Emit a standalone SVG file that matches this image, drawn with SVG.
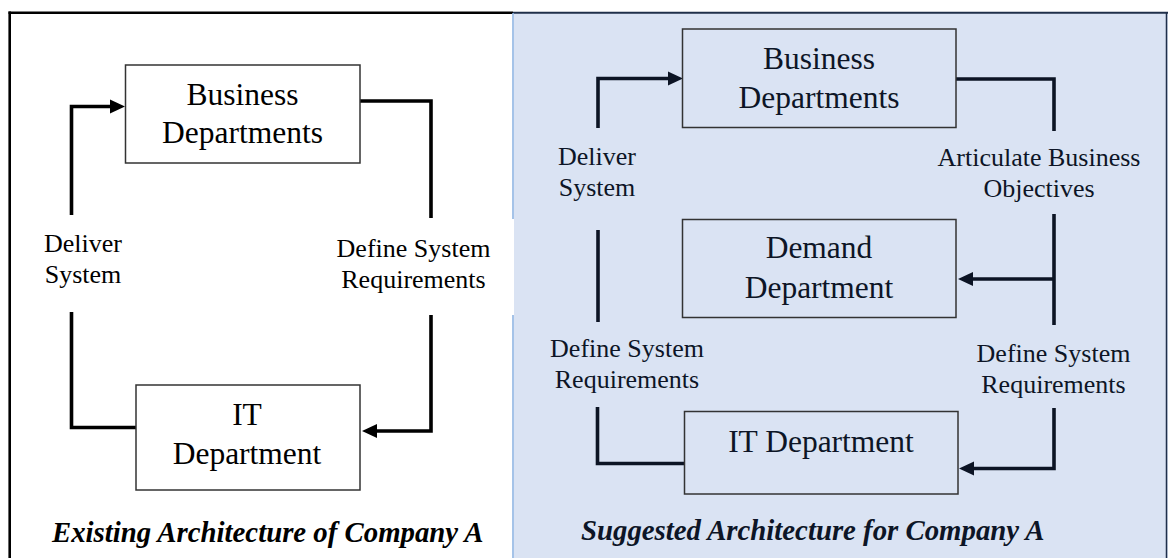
<svg xmlns="http://www.w3.org/2000/svg" width="1168" height="558" viewBox="0 0 1168 558">
  <style>
    .box { stroke: #333333; stroke-width: 1.5; }
    .lbox { fill: #ffffff; }
    .rbox { fill: #dae3f3; }
    .node { font-family: "Liberation Serif", "Times New Roman", serif; font-size: 31.5px; text-anchor: middle; }
    .lbl { font-family: "Liberation Serif", "Times New Roman", serif; font-size: 26px; text-anchor: middle; }
    .cap { font-family: "Liberation Serif", "Times New Roman", serif; font-size: 28.8px; font-weight: bold; font-style: italic; }
    .ltxt { fill: #000000; }
    .rtxt { fill: #0d1526; }
    .conn { fill: none; stroke-width: 3.6; stroke-linejoin: miter; stroke-linecap: butt; }
    .lc { stroke: #000000; }
    .rc { stroke: #0c1424; }
  </style>
  <defs>
    <marker id="ahL" viewBox="0 -8 15 16" markerWidth="15" markerHeight="16" refX="1" refY="0" markerUnits="userSpaceOnUse" orient="auto">
      <path d="M0,-7 L15,0 L0,7 Z" fill="#000000"/>
    </marker>
    <marker id="ahR" viewBox="0 -8 15 16" markerWidth="15" markerHeight="16" refX="1" refY="0" markerUnits="userSpaceOnUse" orient="auto">
      <path d="M0,-7 L15,0 L0,7 Z" fill="#0c1424"/>
    </marker>
  </defs>

  <!-- backgrounds / frame -->
  <g id="frame">
    <rect x="0" y="0" width="1168" height="558" fill="#ffffff"/>
    <rect x="514" y="13" width="654" height="545" fill="#dae3f3"/>
    <line x1="9.7" y1="11.5" x2="9.7" y2="558" stroke="#000000" stroke-width="2.6"/>
    <line x1="8.5" y1="12.8" x2="513" y2="12.8" stroke="#000000" stroke-width="2.6"/>
    <line x1="513" y1="12.8" x2="1168" y2="12.8" stroke="#1f2f4a" stroke-width="2"/>
    <line x1="1166.5" y1="12" x2="1166.5" y2="558" stroke="#1f2f4a" stroke-width="1.5"/>
    <line x1="513" y1="13" x2="513" y2="219" stroke="#8fb4e3" stroke-width="1.6"/>
    <line x1="513" y1="315" x2="513" y2="558" stroke="#8fb4e3" stroke-width="1.6"/>
  </g>

  <!-- connectors -->
  <g id="connectors">
    <path class="conn lc" d="M71.5,215 V106.5 H111" marker-end="url(#ahL)"/>
    <path class="conn lc" d="M360,101 H431 V218"/>
    <path class="conn lc" d="M71.5,312 V427.5 H136"/>
    <path class="conn lc" d="M431,315 V431 H376" marker-end="url(#ahL)"/>

    <path class="conn rc" d="M598,128 V78.5 H669" marker-end="url(#ahR)"/>
    <path class="conn rc" d="M956,79 H1054 V131"/>
    <path class="conn rc" d="M1054,214 V325"/>
    <path class="conn rc" d="M1054,279 H972" marker-end="url(#ahR)"/>
    <path class="conn rc" d="M598,230 V322"/>
    <path class="conn rc" d="M597.5,407 V463.5 H684.5"/>
    <path class="conn rc" d="M1054,408 V468.5 H973" marker-end="url(#ahR)"/>
  </g>

  <!-- left panel nodes -->
  <g id="left-business">
    <rect class="box lbox" x="125.5" y="65" width="234.5" height="98"/>
    <text class="node ltxt" x="242.5" y="105">Business</text>
    <text class="node ltxt" x="242.5" y="143">Departments</text>
  </g>
  <g id="left-it">
    <rect class="box lbox" x="136" y="385" width="224" height="105"/>
    <text class="node ltxt" x="247" y="425">IT</text>
    <text class="node ltxt" x="247" y="464">Department</text>
  </g>

  <!-- right panel nodes -->
  <g id="right-business">
    <rect class="box rbox" x="682.5" y="29" width="273.5" height="98.5"/>
    <text class="node rtxt" x="819" y="68.5">Business</text>
    <text class="node rtxt" x="819" y="108">Departments</text>
  </g>
  <g id="right-demand">
    <rect class="box rbox" x="682.5" y="219.5" width="273.5" height="98"/>
    <text class="node rtxt" x="819" y="258">Demand</text>
    <text class="node rtxt" x="819" y="298">Department</text>
  </g>
  <g id="right-it">
    <rect class="box rbox" x="684.5" y="411.5" width="273.5" height="82.5"/>
    <text class="node rtxt" x="821" y="451.5">IT Department</text>
  </g>

  <!-- labels -->
  <g id="labels">
    <text class="lbl ltxt" x="83" y="252">Deliver</text>
    <text class="lbl ltxt" x="83" y="283">System</text>
    <text class="lbl ltxt" x="413.5" y="257">Define System</text>
    <text class="lbl ltxt" x="413.5" y="288">Requirements</text>

    <text class="lbl rtxt" x="597" y="164.5">Deliver</text>
    <text class="lbl rtxt" x="597" y="195.5">System</text>
    <text class="lbl rtxt" x="1039" y="166">Articulate Business</text>
    <text class="lbl rtxt" x="1039" y="197">Objectives</text>
    <text class="lbl rtxt" x="627" y="357">Define System</text>
    <text class="lbl rtxt" x="627" y="388">Requirements</text>
    <text class="lbl rtxt" x="1053.5" y="361.5">Define System</text>
    <text class="lbl rtxt" x="1053.5" y="393">Requirements</text>
  </g>

  <!-- captions -->
  <g id="captions">
    <text class="cap ltxt" x="52" y="541.5">Existing Architecture of Company A</text>
    <text class="cap rtxt" x="581" y="540">Suggested Architecture for Company A</text>
  </g>
</svg>
